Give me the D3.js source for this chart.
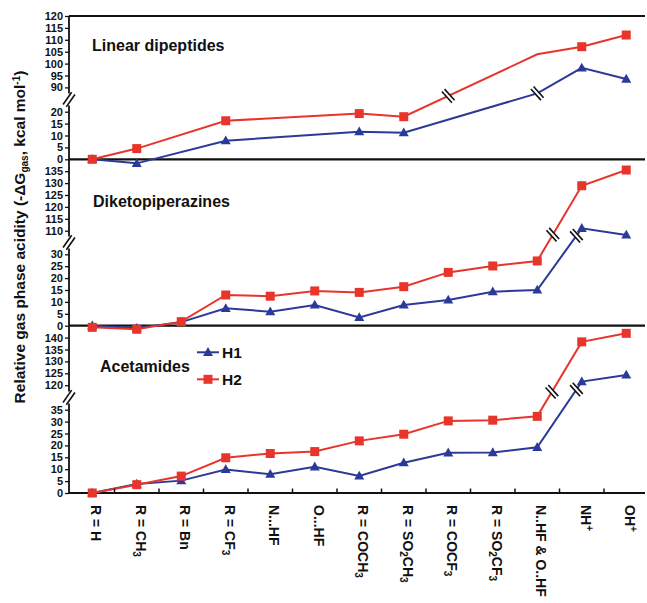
<!DOCTYPE html>
<html><head><meta charset="utf-8">
<script src="https://cdn.jsdelivr.net/npm/d3@7"></script>
<style>
body{margin:0;background:#fff;}
svg{display:block;font-family:"Liberation Sans",Arial,Helvetica,sans-serif;}
</style>
</head><body>
<svg id="chart" width="647" height="603"></svg>
<script>
// ---------- DATA ----------
const categories = ["R = H","R = CH_3","R = Bn","R = CF_3","N...HF","O...HF","R = COCH_3",
  "R = SO_2CH_3","R = COCF_3","R = SO_2CF_3","N..HF & O..HF","NH^+","OH^+"];
const seriesNames = ["H1","H2"];
const panelTitles = ["Linear dipeptides","Diketopiperazines","Acetamides"];

const dipeptidesH1 = [0, -1.7, null, 7.8, null, null, 11.6, 11.2, null, null, 87.5, 98.2, 93.5];
const dipeptidesH2 = [0, 4.5, null, 16.2, null, null, 19.2, 17.9, null, null, 103.9, 107.1, 112.0];
const dipeptidesHiddenMarkers = [10];

const diketoH1 = [0, -1.0, 1.5, 7.3, 5.9, 8.7, 3.5, 8.7, 10.8, 14.3, 15.0, 111.0, 108.2];
const diketoH2 = [-0.7, -1.5, 1.7, 12.9, 12.4, 14.6, 14.0, 16.4, 22.4, 25.1, 27.2, 128.9, 135.5];

const acetH1 = [0, 3.8, 5.2, 9.9, 7.9, 11.0, 7.2, 12.7, 16.9, 17.0, 19.2, 121.5, 124.3];
const acetH2 = [0, 3.5, 7.1, 14.8, 16.6, 17.4, 21.9, 24.7, 30.3, 30.6, 32.2, 138.2, 141.8];

const dipeptidesLowTicks = [0, 5, 10, 15, 20];
const dipeptidesUpTicks  = [90, 95, 100, 105, 110, 115, 120];
const diketoLowTicks = [0, 5, 10, 15, 20, 25, 30];
const diketoUpTicks  = [110, 115, 120, 125, 130, 135];
const acetLowTicks = [0, 5, 10, 15, 20, 25, 30, 35];
const acetUpTicks  = [120, 125, 130, 135, 140];

// ---------- LAYOUT ----------
const COLORS = {H1: "#2b3a98", H2: "#e8352b"};
const K = 2.38;             // px per kcal/mol
const AX = 69;              // y axis x
const RIGHT = 645;
const panels = [
  {title: panelTitles[0], tx: 92, ty: 51, h1: dipeptidesH1, h2: dipeptidesH2, hidden: dipeptidesHiddenMarkers,
   top: 16, bottom: 159.3, lowMax: 20, upMin: 90, upTop: 120, lowTicks: dipeptidesLowTicks, upTicks: dipeptidesUpTicks,
   breaks: {H1: 10.0, H2: 8.0}},
  {title: panelTitles[1], tx: 93, ty: 206.5, h1: diketoH1, h2: diketoH2, hidden: [],
   top: 159.3, bottom: 325.7, lowMax: 30, upMin: 110, upTop: 140, lowTicks: diketoLowTicks, upTicks: diketoUpTicks,
   breaks: {H1: 10.88, H2: 10.35}},
  {title: panelTitles[2], tx: 100, ty: 371.7, h1: acetH1, h2: acetH2, hidden: [],
   top: 325.7, bottom: 493, lowMax: 35, upMin: 120, upTop: 145, lowTicks: acetLowTicks, upTicks: acetUpTicks,
   breaks: {H1: 10.88, H2: 10.33}}
];

const svg = d3.select("#chart");
const x = d3.scaleBand().domain(categories).range([70, 648.5]).paddingInner(0).paddingOuter(0);
const step = x.step();
const xc = c => x(c) + step / 2;

function appendRich(textSel, str, subSize, shift) {
  // "_x" -> subscript digit(s), "^x" -> superscript
  const re = /([_^])([0-9+\-]+)/g;
  let last = 0, m, pend = 0;
  while ((m = re.exec(str)) !== null) {
    if (m.index > last) textSel.append("tspan").attr("dy", pend).text(str.slice(last, m.index)), pend = 0;
    const d = m[1] === "_" ? shift : -shift * 1.6;
    textSel.append("tspan").attr("dy", pend + d).attr("font-size", subSize).text(m[2]);
    pend = -d;
    last = re.lastIndex;
  }
  if (last < str.length) textSel.append("tspan").attr("dy", pend).text(str.slice(last));
}

function breakMark(g, cx, cy, angle, len, gap) {
  const b = g.append("g").attr("transform", `translate(${cx},${cy}) rotate(${angle})`);
  b.append("rect").attr("x", -len / 2).attr("y", -gap / 2).attr("width", len).attr("height", gap).attr("fill", "#fff");
  [-gap / 2, gap / 2].forEach(o => b.append("line").attr("x1", -len / 2).attr("x2", len / 2)
    .attr("y1", o).attr("y2", o).attr("stroke", "#111").attr("stroke-width", 1.6));
}

panels.forEach(p => {
  const lowY = d3.scaleLinear().domain([0, p.lowMax]).range([p.bottom, p.bottom - p.lowMax * K]);
  const upY = d3.scaleLinear().domain([p.upMin, p.upTop]).range([p.top + (p.upTop - p.upMin) * K, p.top]);
  const thr = (p.lowMax + p.upMin) / 2;
  const yv = v => v > thr ? upY(v) : lowY(v);
  const gapC = (lowY(p.lowMax) + upY(p.upMin)) / 2;
  const g = svg.append("g");

  // axis ticks
  const la = g.append("g").attr("transform", `translate(${AX},0)`)
    .call(d3.axisLeft(lowY).tickValues(p.lowTicks).tickSize(4).tickPadding(2));
  const ua = g.append("g").attr("transform", `translate(${AX},0)`)
    .call(d3.axisLeft(upY).tickValues(p.upTicks).tickSize(4).tickPadding(2));
  [la, ua].forEach(a => {
    a.select(".domain").remove();
    a.selectAll("text").attr("font-size", 11).attr("font-weight", "bold").attr("fill", "#111")
      .attr("font-family", '"Liberation Sans",Arial,sans-serif');
    a.selectAll("line").attr("stroke", "#111").attr("stroke-width", 1.3);
  });
  // axis line with break
  g.append("line").attr("x1", AX).attr("x2", AX).attr("y1", p.top).attr("y2", gapC - 6)
    .attr("stroke", "#111").attr("stroke-width", 1.8);
  g.append("line").attr("x1", AX).attr("x2", AX).attr("y1", gapC + 6).attr("y2", p.bottom)
    .attr("stroke", "#111").attr("stroke-width", 1.8);
  breakMark(g, AX, gapC, -55, 15, 4);

  // horizontal lines
  if (p === panels[0]) g.append("line").attr("x1", AX).attr("x2", RIGHT).attr("y1", p.top).attr("y2", p.top)
    .attr("stroke", "#111").attr("stroke-width", 2.2);
  g.append("line").attr("x1", AX).attr("x2", RIGHT).attr("y1", p.bottom).attr("y2", p.bottom)
    .attr("stroke", "#111").attr("stroke-width", 2.2);

  // title
  g.append("text").attr("x", p.tx).attr("y", p.ty).attr("font-size", 16).attr("font-weight", "bold")
    .attr("fill", "#111").text(p.title);

  // series
  [["H1", p.h1], ["H2", p.h2]].forEach(([name, vals]) => {
    const pts = vals.map((v, i) => ({i, v})).filter(d => d.v !== null)
      .map(d => ({i: d.i, x: xc(categories[d.i]), y: yv(d.v)}));
    g.append("path").attr("d", d3.line().x(d => d.x).y(d => d.y)(pts))
      .attr("fill", "none").attr("stroke", COLORS[name]).attr("stroke-width", 2);
    // markers
    const mk = pts.filter(d => !p.hidden.includes(d.i));
    if (name === "H1") {
      g.selectAll(null).data(mk).enter().append("path")
        .attr("d", "M0,-5.2L5,3.6L-5,3.6Z").attr("transform", d => `translate(${d.x},${d.y})`)
        .attr("fill", COLORS.H1);
    } else {
      g.selectAll(null).data(mk).enter().append("rect")
        .attr("x", d => d.x - 4.5).attr("y", d => d.y - 4.5).attr("width", 9).attr("height", 9)
        .attr("fill", COLORS.H2);
    }
    // break mark on the line
    const b = p.breaks[name];
    const bx = xc(categories[0]) + b * step;
    let by = pts[pts.length - 1].y;
    for (let k = 0; k < pts.length - 1; k++) {
      if (bx >= pts[k].x && bx <= pts[k + 1].x) {
        const t = (bx - pts[k].x) / (pts[k + 1].x - pts[k].x);
        by = pts[k].y + t * (pts[k + 1].y - pts[k].y);
        break;
      }
    }
    breakMark(g, bx, by, 48, 15, 3.6);
  });
});

// bottom axis ticks (between categories, inward)
svg.append("g").selectAll("line").data(categories.slice(1)).enter().append("line")
  .attr("x1", d => x(d)).attr("x2", d => x(d)).attr("y1", 493).attr("y2", 488.5)
  .attr("stroke", "#111").attr("stroke-width", 1.5);

// category labels
svg.append("g").selectAll("text").data(categories).enter().append("text")
  .attr("transform", d => `translate(${xc(d) - 1},505) rotate(90)`)
  .attr("dy", "0.36em").attr("font-size", 14).attr("font-weight", "bold").attr("fill", "#111")
  .each(function(d) { appendRich(d3.select(this), d, 10, 3); });

// y axis title
const yt = svg.append("text").attr("transform", "translate(24.5,237) rotate(-90)")
  .attr("text-anchor", "middle").attr("font-size", 15.5).attr("font-weight", "bold").attr("fill", "#111");
yt.append("tspan").text("Relative gas phase acidity (-ΔG");
yt.append("tspan").attr("dy", 3).attr("font-size", 10).text("gas");
yt.append("tspan").attr("dy", -3).text(", kcal mol");
yt.append("tspan").attr("dy", -5).attr("font-size", 10).text("-1");
yt.append("tspan").attr("dy", 5).text(")");

// legend
const leg = svg.append("g");
seriesNames.forEach((s, i) => {
  const ly = 352.3 + i * 27;
  leg.append("line").attr("x1", 197).attr("x2", 219).attr("y1", ly).attr("y2", ly)
    .attr("stroke", COLORS[s]).attr("stroke-width", 2);
  if (s === "H1") leg.append("path").attr("d", "M0,-5.2L5,3.6L-5,3.6Z").attr("transform", `translate(208,${ly})`).attr("fill", COLORS.H1);
  else leg.append("rect").attr("x", 203.5).attr("y", ly - 4.5).attr("width", 9).attr("height", 9).attr("fill", COLORS.H2);
  leg.append("text").attr("x", 222).attr("y", ly + 5.5).attr("font-size", 15.5).attr("font-weight", "bold")
    .attr("fill", "#111").text(s);
});
</script>
</body></html>
